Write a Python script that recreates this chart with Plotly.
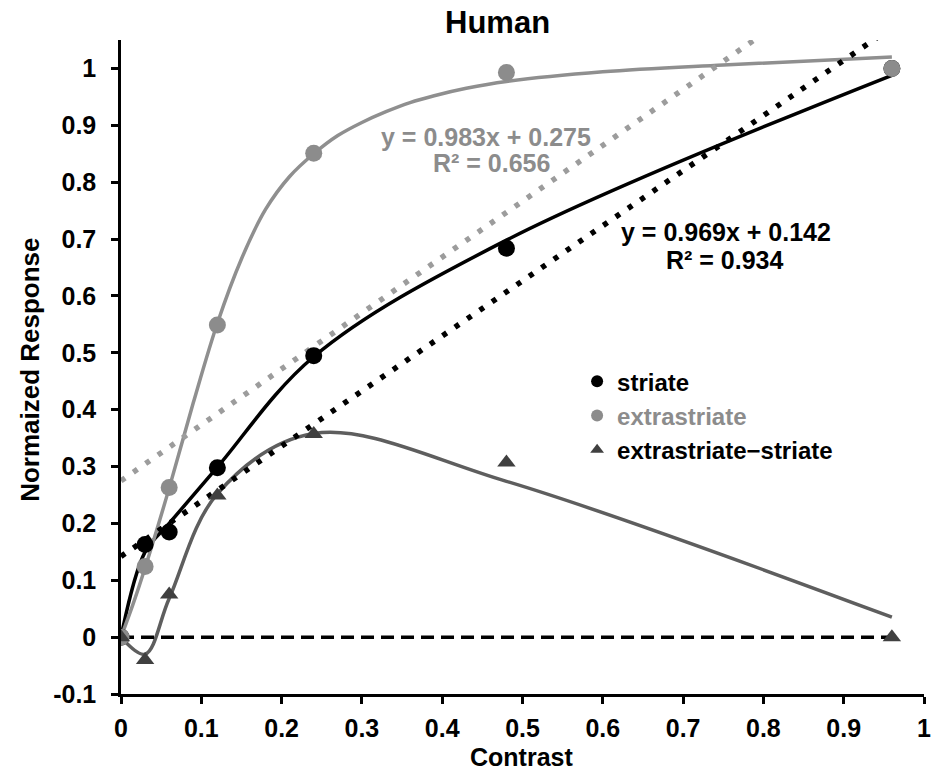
import plotly.graph_objects as go

# ---- data ----
contrast = [0, 0.03, 0.06, 0.12, 0.24, 0.48, 0.96]
striate = [0, 0.163, 0.185, 0.298, 0.495, 0.684, 1.0]
extrastriate = [0, 0.124, 0.263, 0.549, 0.851, 0.993, 1.0]
extra_minus_striate = [0, -0.04, 0.075, 0.249, 0.357, 0.307, 0.0]

# fitted (smoothed) curves
striate_fit_x = [0, 0.03, 0.06, 0.12, 0.24, 0.48, 0.96]
striate_fit = [0, 0.150, 0.200, 0.299, 0.493, 0.698, 0.988]
extrastriate_fit_x = [0, 0.015, 0.03, 0.06, 0.09, 0.12, 0.15, 0.18, 0.21, 0.24, 0.27, 0.30, 0.33, 0.36,
                      0.39, 0.43, 0.48, 0.60, 0.75, 0.96]
extrastriate_fit = [0, 0.058, 0.122, 0.262, 0.412, 0.552, 0.665, 0.752, 0.810, 0.850, 0.882, 0.905, 0.924,
                    0.940, 0.952, 0.965, 0.977, 0.994, 1.006, 1.020]
diff_fit_x = [0, 0.03, 0.06, 0.12, 0.24, 0.48, 0.96]
diff_fit = [0, -0.030, 0.068, 0.252, 0.358, 0.274, 0.035]

# linear trendlines (from the printed equations), end points
trend_x = [0, 1]
trend_striate = [0.142, 1.111]
trend_extra = [0.275, 1.258]

zero_x = [0, 0.96]
zero_y = [0, 0]

x_ticks = [0, 0.1, 0.2, 0.3, 0.4, 0.5, 0.6, 0.7, 0.8, 0.9, 1.0]
x_ticktext = ["0", "0.1", "0.2", "0.3", "0.4", "0.5", "0.6", "0.7", "0.8", "0.9", "1"]
y_ticks = [-0.1, 0, 0.1, 0.2, 0.3, 0.4, 0.5, 0.6, 0.7, 0.8, 0.9, 1.0]
y_ticktext = ["-0.1", "0", "0.1", "0.2", "0.3", "0.4", "0.5", "0.6", "0.7", "0.8", "0.9", "1"]

BLACK = "#000000"
GRAY = "#8c8c8c"
GRAY_LINE = "#8f8f8f"
GRAY_DOT = "#9c9c9c"
DARK = "#404040"
DARK_LINE = "#5e5e5e"
FONT = "Liberation Sans, Arial, sans-serif"

fig = go.Figure()

# smoothed curves
fig.add_trace(go.Scatter(x=striate_fit_x, y=striate_fit, mode="lines",
                         line=dict(color=BLACK, width=3.5, shape="spline", smoothing=1),
                         showlegend=False, hoverinfo="skip"))
fig.add_trace(go.Scatter(x=extrastriate_fit_x, y=extrastriate_fit, mode="lines",
                         line=dict(color=GRAY_LINE, width=3.5, shape="spline", smoothing=1),
                         showlegend=False, hoverinfo="skip"))
fig.add_trace(go.Scatter(x=diff_fit_x, y=diff_fit, mode="lines",
                         line=dict(color=DARK_LINE, width=3.5, shape="spline", smoothing=1),
                         showlegend=False, hoverinfo="skip"))

# trendlines
fig.add_trace(go.Scatter(x=trend_x, y=trend_extra, mode="lines", line=dict(color=GRAY_DOT, width=5.5, dash="5px,10px"),
                         showlegend=False, hoverinfo="skip"))
fig.add_trace(go.Scatter(x=trend_x, y=trend_striate, mode="lines", line=dict(color=BLACK, width=5.5, dash="5px,10px"),
                         showlegend=False, hoverinfo="skip"))

# zero line
fig.add_trace(go.Scatter(x=zero_x, y=zero_y, mode="lines", line=dict(color=BLACK, width=3.5, dash="13px,7px"),
                         showlegend=False, hoverinfo="skip"))

# markers
fig.add_trace(go.Scatter(x=contrast, y=striate, mode="markers", name="<b>striate</b>",
                         marker=dict(color=BLACK, size=17, symbol="circle")))
fig.add_trace(go.Scatter(x=contrast, y=extrastriate, mode="markers",
                         name="<b><span style='color:#8c8c8c'>extrastriate</span></b>",
                         marker=dict(color=GRAY, size=17, symbol="circle")))
fig.add_trace(go.Scatter(x=contrast, y=extra_minus_striate, mode="markers", name="<b>extrastriate\u2212striate</b>",
                         marker=dict(color=DARK, size=16, symbol="triangle-up")))

annots = [
    dict(text="<b>Human</b>", x=0.469, y=1.0275, xref="paper", yref="paper", font=dict(size=31, color=BLACK)),
    dict(text="<b>Normaized Response</b>", x=-0.1135, y=0.4954, xref="paper", yref="paper", textangle=-90,
         font=dict(size=26, color=BLACK)),
    dict(text="<b>Contrast</b>", x=0.4985, y=-0.0963, xref="paper", yref="paper", font=dict(size=25, color=BLACK)),
    dict(text="<b>y = 0.983x + 0.275</b>", x=0.455, y=0.879, xref="x", yref="y", font=dict(size=25, color=GRAY)),
    dict(text="<b>R\u00b2 = 0.656</b>", x=0.461, y=0.834, xref="x", yref="y", font=dict(size=25, color=GRAY)),
    dict(text="<b>y = 0.969x + 0.142</b>", x=0.753, y=0.712, xref="x", yref="y", font=dict(size=25, color=BLACK)),
    dict(text="<b>R\u00b2 = 0.934</b>", x=0.752, y=0.663, xref="x", yref="y", font=dict(size=25, color=BLACK)),
]
for a in annots:
    a.update(showarrow=False, xanchor="center", yanchor="middle")

fig.update_layout(
    width=932, height=773,
    margin=dict(l=121, r=8, t=40, b=79, autoexpand=False),
    paper_bgcolor="white", plot_bgcolor="white",
    font=dict(family=FONT, color=BLACK),
    annotations=annots,
    legend=dict(x=0.568, y=0.512, xanchor="left", yanchor="top", bgcolor="rgba(0,0,0,0)",
                font=dict(size=24, color=BLACK, family=FONT), itemsizing="constant"),
    xaxis=dict(range=[0, 1], tickvals=x_ticks, ticktext=x_ticktext, showgrid=False, zeroline=False,
               showline=True, linecolor=BLACK, linewidth=2.5, ticks="outside", ticklen=7, tickwidth=2.5,
               tickcolor=BLACK, tickfont=dict(size=25, color=BLACK, family=FONT, weight="bold"),
               ticklabeloverflow="allow", ticklabelstandoff=3, automargin=False),
    yaxis=dict(range=[-0.1, 1.05], tickvals=y_ticks, ticktext=y_ticktext, showgrid=False, zeroline=False,
               showline=True, linecolor=BLACK, linewidth=2.5, ticks="outside", ticklen=7, tickwidth=2.5,
               tickcolor=BLACK, tickfont=dict(size=25, color=BLACK, family=FONT, weight="bold"),
               ticklabelstandoff=10, ticklabeloverflow="allow", automargin=False),
)

fig.write_html("out.html")
